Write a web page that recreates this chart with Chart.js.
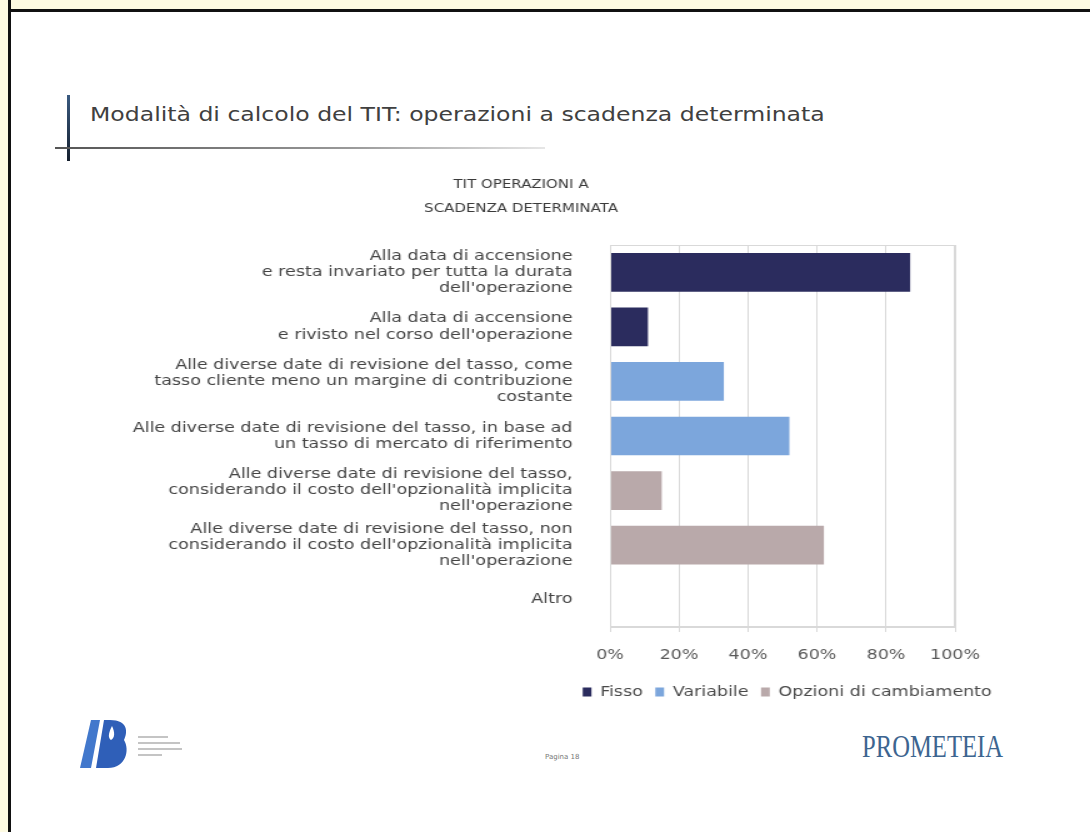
<!DOCTYPE html>
<html>
<head>
<meta charset="utf-8">
<script src="https://cdn.jsdelivr.net/npm/chart.js@4.4.1/dist/chart.umd.min.js"></script>
<style>
  html, body { margin: 0; padding: 0; }
  body { width: 1090px; height: 832px; position: relative; background: #fff; overflow: hidden; font-family: "DejaVu Sans", Verdana, sans-serif; }
  .band-top { position: absolute; left: 0; top: 0; width: 1090px; height: 9px; background: #fefbe2; border-bottom: 3px solid #111; }
  .band-left { position: absolute; left: 0; top: 0; width: 8px; height: 832px; background: #fefbe2; border-right: 3px solid #111; }
  .heading { position: absolute; left: 90px; top: 103px; font-size: 19px; color: #404040; white-space: nowrap; transform: scaleX(1.24); transform-origin: 0 0; }
  .vline { position: absolute; left: 67px; top: 95px; width: 3px; height: 66px; background: linear-gradient(#3a5a80, #15202e); }
  .hline { position: absolute; left: 55px; top: 147px; width: 490px; height: 2px; background: linear-gradient(to right, #555, #999 60%, #e6e6e6); }
  /* the slide picture is stretched sideways, so is the chart */
  #wrap { position: absolute; left: 60px; top: 160px; width: 760px; height: 560px; transform: scaleX(1.25); transform-origin: 0 0; }
  .page { position: absolute; left: 545px; top: 753px; font-size: 7px; color: #777; }
  .brand { position: absolute; left: 862px; top: 728px; font-family: "Liberation Serif", serif; font-size: 32px; color: #3d6590; transform: scaleX(0.77); transform-origin: left top; }
  .logo { position: absolute; left: 78px; top: 716px; }
</style>
</head>
<body>
<div class="band-top"></div>
<div class="band-left"></div>
<div class="vline"></div>
<div class="hline"></div>
<div class="heading">Modalità di calcolo del TIT: operazioni a scadenza determinata</div>
<div id="wrap"><canvas id="tit-chart"></canvas></div>
<svg class="logo" width="110" height="56" viewBox="0 0 110 56">
  <polygon points="13,4 22,4 13,52 2,52" fill="#4278cc"/>
  <path d="M26,4 L32,4 C50,4 50,16 46,24 C52,34 48,52 30,52 L18,52 Z" fill="#2f5fb8"/>
  <path d="M34,10 C30,18 30,22 33,24 C37,22 37,16 34,10 Z" fill="#fff"/>
  <rect x="60" y="20" width="30" height="2" fill="#c4c4c4"/>
  <rect x="60" y="26" width="42" height="2" fill="#c4c4c4"/>
  <rect x="60" y="32" width="44" height="2" fill="#c4c4c4"/>
  <rect x="60" y="38" width="24" height="2" fill="#c4c4c4"/>
</svg>
<div class="page">Pagina 18</div>
<div class="brand">PROMETEIA</div>

<script>
var categories = [
    ["Alla data di accensione", "e resta invariato per tutta la durata", "dell'operazione"],
    ["Alla data di accensione", "e rivisto nel corso dell'operazione"],
    ["Alle diverse date di revisione del tasso, come", "tasso cliente meno un margine di contribuzione", "costante"],
    ["Alle diverse date di revisione del tasso, in base ad", "un tasso di mercato di riferimento"],
    ["Alle diverse date di revisione del tasso,", "considerando il costo dell'opzionalità implicita", "nell'operazione"],
    ["Alle diverse date di revisione del tasso, non", "considerando il costo dell'opzionalità implicita", "nell'operazione"],
    "Altro"
];
var fisso = [87, 11, null, null, null, null, 0];
var variabile = [null, null, 33, 52, null, null, null];
var opzioni = [null, null, null, null, 15, 62, null];
var seriesNames = ["Fisso", "Variabile", "Opzioni di cambiamento"];
var xTicks = [0, 20, 40, 60, 80, 100];

document.addEventListener("DOMContentLoaded", function() {

    // grey box round the plot area
    var plotBorder = {
        id: "plotBorder",
        afterDraw: function(chart) {
            var a = chart.chartArea;
            var ctx = chart.ctx;
            ctx.save();
            ctx.strokeStyle = "#d9d9d9";
            ctx.lineWidth = 1;
            ctx.strokeRect(a.left + 0.5, a.top + 0.5, a.right - a.left - 1, a.bottom - a.top - 1);
            ctx.restore();
        }
    };

    // legend sits under the plot, not under the whole chart
    var legendShift = {
        id: "legendShift",
        afterLayout: function(chart) {
            chart.legend.left += 213;
            chart.legend.right += 213;
        }
    };

    var ctx = document.getElementById("tit-chart").getContext("2d");
    new Chart(ctx, {
        type: "bar",
        data: {
            labels: categories,
            datasets: [
                { label: seriesNames[0], data: fisso, backgroundColor: "#2b2c5e" },
                { label: seriesNames[1], data: variabile, backgroundColor: "#7ca6dc" },
                { label: seriesNames[2], data: opzioni, backgroundColor: "#b9a9aa" }
            ]
        },
        options: {
            indexAxis: "y",
            responsive: true,
            maintainAspectRatio: false,
            animation: false,
            datasets: { bar: { barPercentage: 0.71, categoryPercentage: 1 } },
            layout: { padding: { left: 0, right: 22.4, top: 0, bottom: 11 } },
            plugins: {
                title: {
                    display: true,
                    text: ["TIT OPERAZIONI A", "SCADENZA DETERMINATA"],
                    color: "#3a3a3a",
                    font: { family: "DejaVu Sans", size: 12, weight: "normal", lineHeight: 2 },
                    padding: { top: 13, bottom: 24 }
                },
                legend: {
                    position: "bottom",
                    labels: {
                        color: "#4a4a4a",
                        font: { family: "DejaVu Sans", size: 14 },
                        boxWidth: 7,
                        boxHeight: 9,
                        padding: 10
                    }
                },
                tooltip: { enabled: false }
            },
            scales: {
                x: {
                    stacked: true,
                    min: 0,
                    max: 100,
                    afterBuildTicks: function(scale) {
                        scale.ticks = xTicks.map(function(v) { return { value: v }; });
                    },
                    afterFit: function(scale) {
                        scale.height = 48;
                        scale.paddingRight = 44;
                    },
                    ticks: {
                        color: "#595959",
                        font: { family: "DejaVu Sans", size: 14 },
                        padding: 15,
                        callback: function(v) { return v + "%"; }
                    },
                    grid: { color: "#d9d9d9", tickLength: 5 },
                    border: { color: "#d9d9d9" }
                },
                y: {
                    stacked: true,
                    afterFit: function(scale) { scale.width = 440; },
                    ticks: {
                        color: "#444",
                        font: { family: "DejaVu Sans", size: 14, lineHeight: 1.15 },
                        padding: 22,
                        autoSkip: false
                    },
                    grid: { display: false },
                    border: { color: "#d9d9d9" }
                }
            }
        },
        plugins: [plotBorder, legendShift]
    });
});
</script>
</body>
</html>
